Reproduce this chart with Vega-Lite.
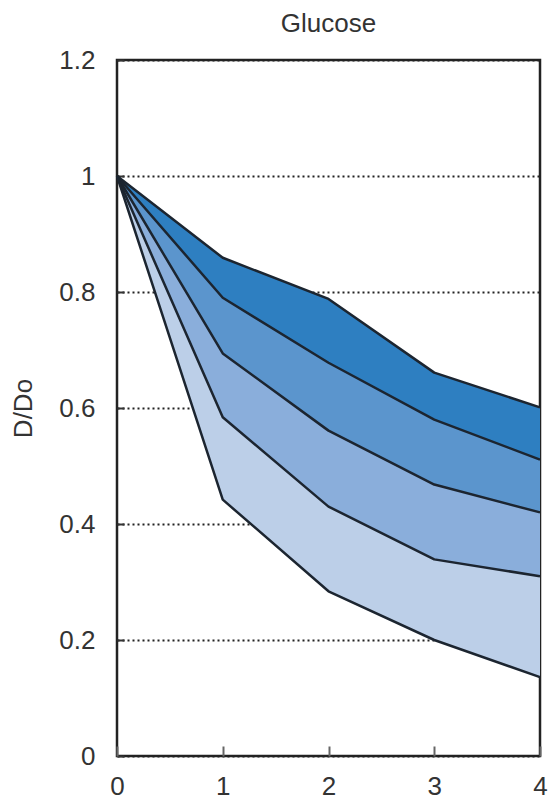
{
  "$schema": "https://vega.github.io/schema/vega-lite/v6.json",
  "width": 423,
  "height": 696,
  "autosize": {"type": "none"},
  "padding": {"left": 117, "top": 60, "right": 10, "bottom": 43},
  "background": "white",
  "title": {"text": "Glucose", "fontSize": 26, "font": "Liberation Sans", "fontWeight": "normal", "color": "#333333", "offset": 10},
  "config": {
    "view": {"stroke": "#222222", "strokeWidth": 2.5},
    "font": "Liberation Sans"
  },
  "datasets": {
    "bands": [
      {"x": 0, "band": "A", "lo": 1.0, "hi": 1.0},
      {"x": 1, "band": "A", "lo": 0.79, "hi": 0.859},
      {"x": 2, "band": "A", "lo": 0.678, "hi": 0.788},
      {"x": 3, "band": "A", "lo": 0.58, "hi": 0.661},
      {"x": 4, "band": "A", "lo": 0.511, "hi": 0.601},
      {"x": 0, "band": "B", "lo": 1.0, "hi": 1.0},
      {"x": 1, "band": "B", "lo": 0.694, "hi": 0.79},
      {"x": 2, "band": "B", "lo": 0.561, "hi": 0.678},
      {"x": 3, "band": "B", "lo": 0.468, "hi": 0.58},
      {"x": 4, "band": "B", "lo": 0.42, "hi": 0.511},
      {"x": 0, "band": "C", "lo": 1.0, "hi": 1.0},
      {"x": 1, "band": "C", "lo": 0.584, "hi": 0.694},
      {"x": 2, "band": "C", "lo": 0.43, "hi": 0.561},
      {"x": 3, "band": "C", "lo": 0.339, "hi": 0.468},
      {"x": 4, "band": "C", "lo": 0.31, "hi": 0.42},
      {"x": 0, "band": "D", "lo": 1.0, "hi": 1.0},
      {"x": 1, "band": "D", "lo": 0.442, "hi": 0.584},
      {"x": 2, "band": "D", "lo": 0.284, "hi": 0.43},
      {"x": 3, "band": "D", "lo": 0.2, "hi": 0.339},
      {"x": 4, "band": "D", "lo": 0.136, "hi": 0.31}
    ],
    "lines": [
      {"x": 0, "line": "L1", "y": 1.0},
      {"x": 1, "line": "L1", "y": 0.859},
      {"x": 2, "line": "L1", "y": 0.788},
      {"x": 3, "line": "L1", "y": 0.661},
      {"x": 4, "line": "L1", "y": 0.601},
      {"x": 0, "line": "L2", "y": 1.0},
      {"x": 1, "line": "L2", "y": 0.79},
      {"x": 2, "line": "L2", "y": 0.678},
      {"x": 3, "line": "L2", "y": 0.58},
      {"x": 4, "line": "L2", "y": 0.511},
      {"x": 0, "line": "L3", "y": 1.0},
      {"x": 1, "line": "L3", "y": 0.694},
      {"x": 2, "line": "L3", "y": 0.561},
      {"x": 3, "line": "L3", "y": 0.468},
      {"x": 4, "line": "L3", "y": 0.42},
      {"x": 0, "line": "L4", "y": 1.0},
      {"x": 1, "line": "L4", "y": 0.584},
      {"x": 2, "line": "L4", "y": 0.43},
      {"x": 3, "line": "L4", "y": 0.339},
      {"x": 4, "line": "L4", "y": 0.31},
      {"x": 0, "line": "L5", "y": 1.0},
      {"x": 1, "line": "L5", "y": 0.442},
      {"x": 2, "line": "L5", "y": 0.284},
      {"x": 3, "line": "L5", "y": 0.2},
      {"x": 4, "line": "L5", "y": 0.136}
    ]
  },
  "layer": [
    {
      "data": {"name": "bands"},
      "mark": {"type": "area", "opacity": 1},
      "encoding": {
        "x": {
          "field": "x", "type": "quantitative",
          "scale": {"domain": [0, 4], "nice": false},
          "axis": {
            "values": [0, 1, 2, 3, 4], "format": "d", "grid": false, "domain": false,
            "labelFlush": false, "labelOverlap": false, "labelBound": false,
            "tickSize": -10, "tickWidth": 2, "tickColor": "#666666",
            "labelPadding": 27, "labelFontSize": 26, "labelColor": "#333333",
            "labelFont": "Liberation Sans", "title": null, "zindex": 1
          }
        },
        "y": {
          "field": "hi", "type": "quantitative",
          "scale": {"domain": [0, 1.2], "nice": false},
          "axis": {
            "values": [0, 0.2, 0.4, 0.6, 0.8, 1, 1.2], "format": "~g", "grid": true,
            "gridDash": [2, 3], "gridColor": "#222222", "gridWidth": 2,
            "labelFlush": false,
            "domain": false, "ticks": true, "tickSize": -7, "tickWidth": 2, "tickColor": "#333333",
            "labelPadding": 29, "labelFontSize": 26, "labelColor": "#333333",
            "labelFont": "Liberation Sans",
            "title": "D/Do", "titleFontSize": 26, "titleFontWeight": "normal",
            "titleColor": "#333333", "titlePadding": 22, "titleFont": "Liberation Sans"
          }
        },
        "y2": {"field": "lo"},
        "color": {
          "field": "band", "type": "nominal",
          "scale": {"domain": ["A", "B", "C", "D"], "range": ["#2e7fc1", "#5b95cd", "#8aaedb", "#bccfe8"]},
          "legend": null
        }
      }
    },
    {
      "data": {"name": "lines"},
      "mark": {"type": "line", "stroke": "#1c2530", "strokeWidth": 2.5, "strokeJoin": "round"},
      "encoding": {
        "x": {"field": "x", "type": "quantitative"},
        "y": {"field": "y", "type": "quantitative"},
        "detail": {"field": "line", "type": "nominal"}
      }
    }
  ]
}
